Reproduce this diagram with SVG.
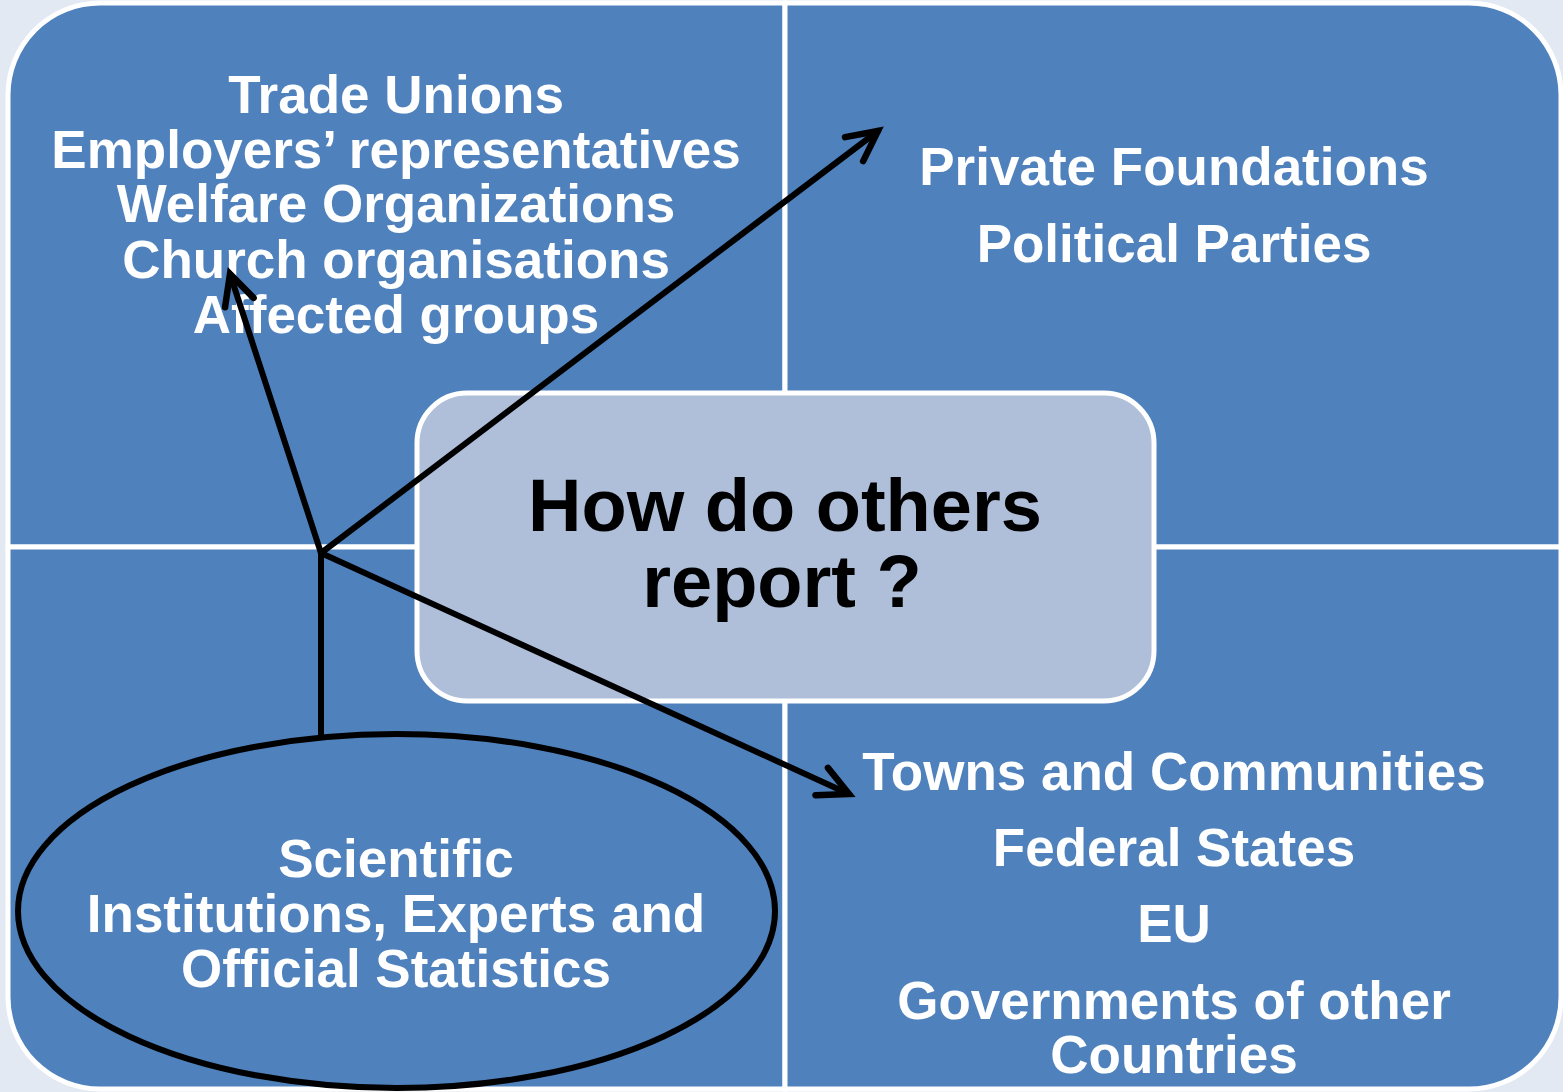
<svg xmlns="http://www.w3.org/2000/svg" width="1563" height="1092" viewBox="0 0 1563 1092">
<style>
.quad{fill:#4F81BD;stroke:#FFFFFF;stroke-width:5;}
.lbl{font-family:"Liberation Sans",Arial,sans-serif;font-weight:bold;font-size:53px;fill:#FFFFFF;text-anchor:middle;}
.ctr{font-family:"Liberation Sans",Arial,sans-serif;font-weight:bold;font-size:74px;fill:#000000;text-anchor:middle;}
.conn{fill:none;stroke:#000000;stroke-width:6;stroke-linecap:round;}
</style>
<defs>
<marker id="arr" markerUnits="userSpaceOnUse" orient="auto" overflow="visible" markerWidth="1" markerHeight="1" refX="0" refY="0">
<path d="M -30 -15 L 0 0 L -30 15" fill="none" stroke="#000000" stroke-width="6.5" stroke-linecap="round" stroke-linejoin="miter"/>
</marker>
</defs>
<rect x="0" y="0" width="1563" height="1092" fill="#E2E9F2"/>
<g id="quadrant-top-left">
<path class="quad" d="M 8 95 A 92 92 0 0 1 100 3 L 785 3 L 785 547 L 8 547 Z"/>
<text class="lbl" x="396" y="113">Trade Unions</text>
<text class="lbl" x="396" y="168">Employers’ representatives</text>
<text class="lbl" x="396" y="222">Welfare Organizations</text>
<text class="lbl" x="396" y="278">Church organisations</text>
<text class="lbl" x="396" y="333">Affected groups</text>
</g>
<g id="quadrant-top-right">
<path class="quad" d="M 785 3 L 1469 3 A 92 92 0 0 1 1561 95 L 1561 547 L 785 547 Z"/>
<text class="lbl" x="1174" y="185">Private Foundations</text>
<text class="lbl" x="1174" y="262">Political Parties</text>
</g>
<g id="quadrant-bottom-left">
<path class="quad" d="M 8 547 L 785 547 L 785 1089 L 100 1089 A 92 92 0 0 1 8 997 Z"/>
</g>
<g id="quadrant-bottom-right">
<path class="quad" d="M 785 547 L 1561 547 L 1561 997 A 92 92 0 0 1 1469 1089 L 785 1089 Z"/>
<text class="lbl" x="1174" y="790">Towns and Communities</text>
<text class="lbl" x="1174" y="866">Federal States</text>
<text class="lbl" x="1174" y="942">EU</text>
<text class="lbl" x="1174" y="1019">Governments of other</text>
<text class="lbl" x="1174" y="1073">Countries</text>
</g>
<g id="center">
<rect x="417" y="393" width="737" height="308" rx="50" ry="50" fill="#AFBFDA" stroke="#FFFFFF" stroke-width="5"/>
<text class="ctr" x="785" y="531">How do others</text>
<text class="ctr" x="782" y="607">report ?</text>
</g>
<g id="scientific">
<ellipse cx="396.5" cy="911" rx="378.5" ry="177" fill="#4F81BD" stroke="#000000" stroke-width="6"/>
<text class="lbl" x="396" y="877">Scientific</text>
<text class="lbl" x="396" y="932">Institutions, Experts and</text>
<text class="lbl" x="396" y="987">Official Statistics</text>
</g>
<g id="connectors">
<path class="conn" d="M 321 734 L 321 553"/>
<path class="conn" d="M 321 553 L 230 274" marker-end="url(#arr)"/>
<path class="conn" d="M 321 553 L 878 131" marker-end="url(#arr)"/>
<path class="conn" d="M 321 553 L 849 794" marker-end="url(#arr)"/>
</g>
</svg>
